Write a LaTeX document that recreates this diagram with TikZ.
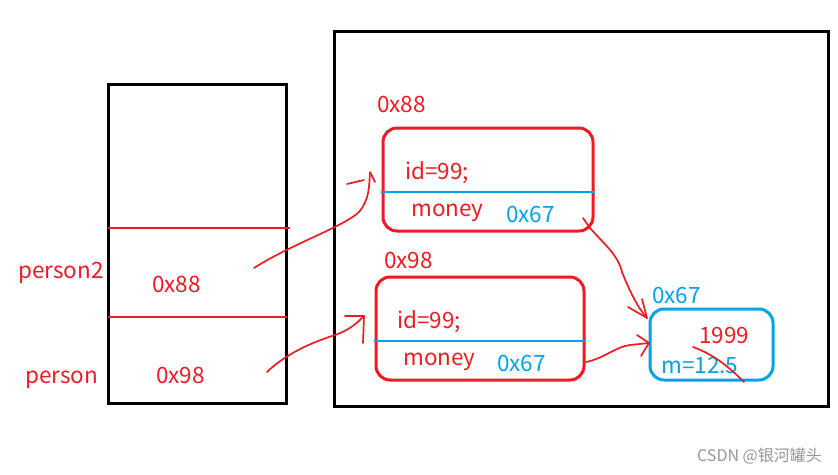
\documentclass[tikz,border=0pt]{standalone}
\usepackage{fontspec}
\setmainfont{Noto Sans CJK SC}
\begin{document}
\begin{tikzpicture}[x=1pt,y=-1pt,
  pred/.style={color={rgb,255:red,237;green,28;blue,36}},
  pblue/.style={color={rgb,255:red,0;green,162;blue,232}},
  objbox/.style={draw={rgb,255:red,237;green,28;blue,36},line width=3pt,rounded corners=14pt,inner sep=0pt},
  refbox/.style={draw={rgb,255:red,0;green,162;blue,232},line width=3pt,rounded corners=14pt,inner sep=0pt},
  txt/.style={font=\fontsize{22.5}{26}\selectfont,inner sep=0pt,anchor=base west},
  stroke/.style={draw={rgb,255:red,237;green,28;blue,36},line width=1.7pt,line cap=round,line join=round},
]
\useasboundingbox (0,0) rectangle (838,474);
\fill[white] (0,0) rectangle (838,474);
% stack frame
\node[draw=black,line width=3pt,minimum width=178pt,minimum height=319pt,inner sep=0pt] (stack) at (197,243.5) {};
\draw[draw={rgb,255:red,237;green,28;blue,36},line width=2.6pt] (108,228) -- (290,228);
\draw[draw={rgb,255:red,237;green,28;blue,36},line width=2.6pt] (108,317) -- (287,317);
\node[txt,pred] (p2) at (18,278) {person2};
\node[txt,pred] (v2) at (152,292) {0x88};
\node[txt,pred] (p1) at (25,383) {person};
\node[txt,pred] (v1) at (156,383) {0x98};
% heap
\node[draw=black,line width=3pt,minimum width=494pt,minimum height=375pt,inner sep=0pt] (heap) at (581,218.5) {};
% object 1
\node[objbox,minimum width=210pt,minimum height=103pt] (o1) at (488,179.5) {};
\draw[draw={rgb,255:red,0;green,162;blue,232},line width=2.6pt] (381,192) -- (595,192);
\node[txt,pred] (a1) at (377,112) {0x88};
\node[txt,pred] (id1) at (405,179) {id=99;};
\node[txt,pred] (m1) at (411,216) {money};
\node[txt,pblue] (r1) at (506,222) {0x67};
% object 2
\node[objbox,minimum width=208pt,minimum height=103pt] (o2) at (480,328.5) {};
\draw[draw={rgb,255:red,0;green,162;blue,232},line width=2.6pt] (374,341) -- (586,341);
\node[txt,pred] (a2) at (384,268) {0x98};
\node[txt,pred] (id2) at (397,328) {id=99;};
\node[txt,pred] (m2) at (403,365) {money};
\node[txt,pblue] (r2) at (497,371) {0x67};
% money object
\node[refbox,minimum width=123pt,minimum height=71pt] (o3) at (711.5,344.5) {};
\node[txt,pblue] (a3) at (652,303) {0x67};
\node[txt,pred] (y) at (699,343) {1999};
\node[txt,pblue] (m) at (661,373) {m=12.5};
% scribble over 12.5
\draw[stroke] (693,347) .. controls (715,355) and (730,368) .. (744,382);
% arrow person2 -> o1
\coordinate (s1) at (254,268);
\coordinate (e1) at (370,173);
\draw[stroke] (s1) .. controls (290,245) and (340,228) .. (358,213)
  .. controls (370,200) and (369,185) .. (e1);
\draw[stroke] (347,184) -- (364,180);
\draw[stroke] (370,172) -- (375,182);
% arrow person -> o2
\coordinate (s2) at (267,372);
\coordinate (e2) at (364,316);
\draw[stroke] (s2) .. controls (290,350) and (320,340) .. (335,335)
  .. controls (350,330) and (358,322) .. (e2);
\draw[stroke] (345,316) -- (e2) -- (363,343);
% arrow o1 -> o3
\coordinate (s3) at (590,228);
\coordinate (e3) at (647,318);
\draw[stroke] (583,218) -- (s3);
\draw[stroke] (s3) .. controls (605,245) and (618,255) .. (622,272)
  .. controls (630,292) and (638,308) .. (e3);
\draw[stroke] (628,307) -- (e3) -- (642,299);
% arrow o2 -> o3
\coordinate (s4) at (586,362);
\coordinate (e4) at (649,343);
\draw[stroke] (s4) .. controls (605,358) and (615,347) .. (630,345) -- (e4);
\draw[stroke] (637,335) -- (e4) -- (641,356);
% watermark
\node[font=\fontsize{16}{18}\selectfont,text={rgb,255:red,150;green,150;blue,150},inner sep=0pt,anchor=east] (wm) at (822,456) {CSDN @银河罐头};
\end{tikzpicture}
\end{document}
